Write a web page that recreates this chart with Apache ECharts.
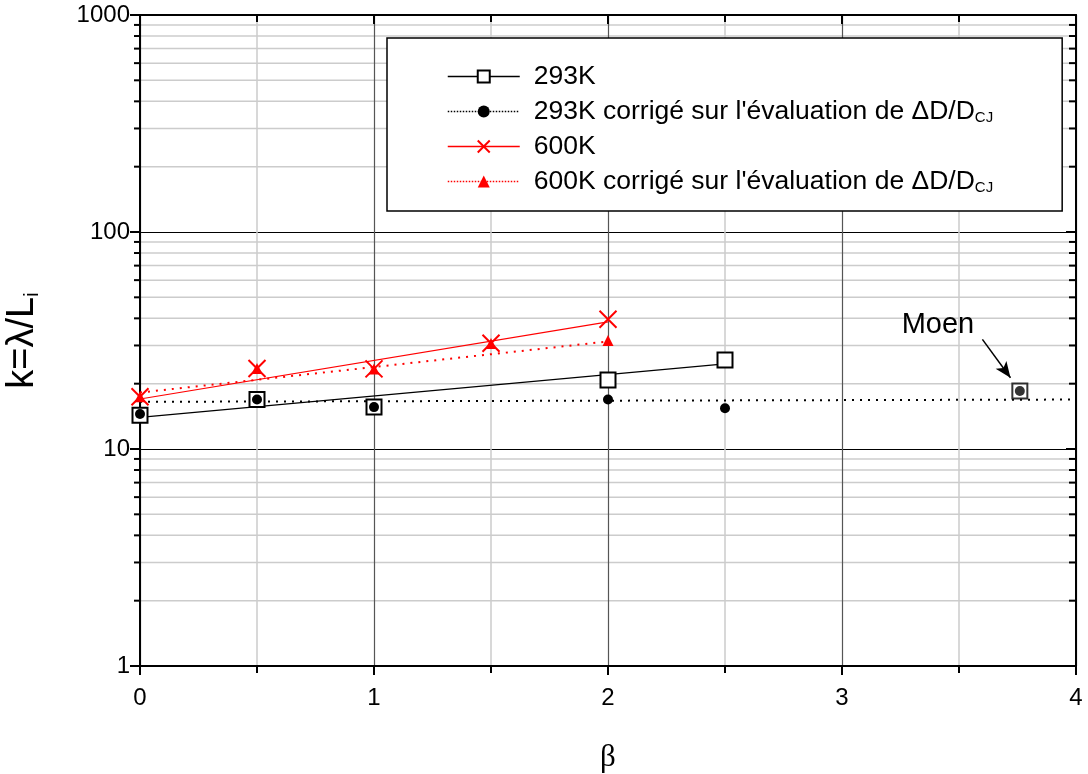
<!DOCTYPE html>
<html>
<head>
<meta charset="utf-8">
<script src="https://cdn.jsdelivr.net/npm/echarts@6/dist/echarts.min.js"></script>
<style>
  html, body { margin: 0; padding: 0; background: #fff; }
  #chart { width: 1088px; height: 774px; }
</style>
</head>
<body>
<div id="chart"></div>
<script>
// Series names (legend entries)
const N293 = "293K";
const N293C = "293K corrigé sur l'évaluation de ΔD/DCJ";
const N600 = "600K";
const N600C = "600K corrigé sur l'évaluation de ΔD/DCJ";

// Measured points [beta, k]
const pts293 = [[0, 14.3], [0.5, 16.9], [1, 15.6], [2, 20.8], [2.5, 25.7]];
const pts293c = [[0, 14.5], [0.5, 16.9], [1, 15.6], [2, 16.9], [2.5, 15.4]];
const pts600 = [[0, 17.4], [0.5, 23.5], [1, 23.4], [1.5, 30.7], [2, 39.6]];
const pts600c = [[0, 17.4], [0.5, 23.5], [1, 23.4], [1.5, 30.6], [2, 31.6]];

// Moen reference point and its annotation
const moenPoint = [[3.76, 18.5]];
const moenLabelAt = [3.41, 37.2];
const moenArrow = [[3.6, 32.0], [3.72, 21.3]];

// Exponential fits (straight on the log axis): end points
const fit293 = [[0, 14.0], [2.5, 24.7]];
const fit293c = [[0, 16.5], [4, 16.9]];
const fit600 = [[0, 17.0], [2, 38.5]];
const fit600c = [[0, 18.2], [2, 31.3]];

// Axis ticks
const xTicks = [0, 1, 2, 3, 4];
const yDecades = [1, 10, 100, 1000];
const yMinor = [];
for (let i = 0; i < yDecades.length - 1; i++) {
  for (let m = 2; m <= 9; m++) yMinor.push(m * yDecades[i]);
}

const FONT = "Liberation Sans";
const chart = echarts.init(document.getElementById('chart'));

const dottedBlack = { color: '#000', width: 2, type: [2, 6] };
const dottedRed = { color: '#ff0000', width: 2, type: [2, 6] };
const xPath = 'path://M0,0L10,10M10,0L0,10';

chart.setOption({
  animation: false,
  backgroundColor: '#fff',
  grid: { left: 140, right: 12, top: 15, bottom: 108, containLabel: false, outerBoundsMode: 'none' },
  legend: {
    orient: 'vertical',
    left: 387, top: 38,
    padding: [25, 69, 16, 60],
    itemGap: 8,
    itemWidth: 72,
    itemHeight: 15,
    borderColor: '#000',
    borderWidth: 1.5,
    borderRadius: 0,
    backgroundColor: '#fff',
    selectedMode: false,
    textStyle: {
      fontFamily: FONT, fontSize: 26.5, color: '#000', lineHeight: 26,
      rich: {
        gap: { width: 9 },
        sub: { fontFamily: FONT, fontSize: 15, color: '#000', padding: [12, 0, 0, 0], lineHeight: 14 }
      }
    },
    formatter: n => '{gap| }' + n.replace(/CJ$/, '{sub|CJ}'),
    data: [
      { name: N293, lineStyle: { color: '#000', width: 1.5, type: 'solid' } },
      { name: N293C, lineStyle: { color: '#000', width: 1.5, type: [1.5, 1.5] } },
      { name: N600, lineStyle: { color: '#ff0000', width: 1.5, type: 'solid' } },
      { name: N600C, lineStyle: { color: '#ff0000', width: 1.5, type: [1.5, 1.5] } }
    ]
  },
  xAxis: [
    {
      type: 'value', position: 'bottom', min: xTicks[0], max: xTicks[xTicks.length - 1], interval: 1,
      name: 'β', nameLocation: 'middle', nameGap: 76,
      nameTextStyle: { fontFamily: 'Liberation Serif', fontSize: 31, color: '#000' },
      axisLine: { show: true, onZero: false, lineStyle: { color: '#000', width: 2 } },
      axisTick: { show: true, inside: false, length: 9, lineStyle: { color: '#000', width: 2 } },
      minorTick: { show: true, splitNumber: 2, length: 7, lineStyle: { color: '#000', width: 2 } },
      axisLabel: { fontFamily: FONT, fontSize: 24, color: '#000', margin: 20 },
      splitLine: { show: true, lineStyle: { color: '#555', width: 1.2 } },
      minorSplitLine: { show: true, lineStyle: { color: '#cccccc', width: 1.5 } }
    },
    {
      type: 'value', position: 'top', min: xTicks[0], max: xTicks[xTicks.length - 1], interval: 1,
      axisLine: { show: true, onZero: false, lineStyle: { color: '#000', width: 2 } },
      axisTick: { show: true, inside: true, length: 9, lineStyle: { color: '#000', width: 2 } },
      minorTick: { show: true, splitNumber: 2, length: 7, lineStyle: { color: '#000', width: 2 } },
      axisLabel: { show: false },
      splitLine: { show: false }
    }
  ],
  yAxis: [
    {
      type: 'log', logBase: 10, min: yDecades[0], max: yDecades[yDecades.length - 1], position: 'left',
      name: 'k=λ/L{sub|i}', nameLocation: 'middle', nameGap: 97, nameRotate: 90,
      nameTextStyle: {
        fontFamily: FONT, fontSize: 38, color: '#000',
        rich: { sub: { fontFamily: FONT, fontSize: 21, color: '#000', padding: [19, 0, 0, 0] } }
      },
      axisLine: { show: true, onZero: false, lineStyle: { color: '#000', width: 2 } },
      axisTick: { show: true, inside: false, length: 10, lineStyle: { color: '#000', width: 2 } },
      minorTick: { show: false },
      axisLabel: { fontFamily: FONT, fontSize: 24, color: '#000', margin: 10, formatter: v => String(v) },
      splitLine: { show: true, lineStyle: { color: '#000', width: 1 } }
    },
    {
      type: 'log', logBase: 10, min: yDecades[0], max: yDecades[yDecades.length - 1], position: 'right',
      axisLine: { show: true, onZero: false, lineStyle: { color: '#000', width: 2 } },
      axisTick: { show: true, inside: true, length: 10, lineStyle: { color: '#000', width: 2 } },
      minorTick: { show: false },
      axisLabel: { show: false },
      splitLine: { show: false }
    }
  ],
  series: [
    {
      // minor log grid lines and minor ticks on both y axes
      type: 'custom', name: 'minorGrid', z: -1, silent: true,
      xAxisIndex: 0, yAxisIndex: 0,
      data: yMinor.map(v => [xTicks[0], v]),
      encode: { x: 0, y: 1 },
      renderItem: (params, api) => {
        const v = api.value(1);
        const a = api.coord([xTicks[0], v]);
        const b = api.coord([xTicks[xTicks.length - 1], v]);
        return {
          type: 'group',
          children: [
            { type: 'line', shape: { x1: a[0], y1: a[1], x2: b[0], y2: b[1] }, style: { stroke: '#cccccc', lineWidth: 1.5 } },
            { type: 'line', shape: { x1: a[0] - 6, y1: a[1], x2: a[0], y2: a[1] }, style: { stroke: '#000', lineWidth: 2 } },
            { type: 'line', shape: { x1: b[0] - 7, y1: b[1], x2: b[0], y2: b[1] }, style: { stroke: '#000', lineWidth: 2 } }
          ]
        };
      }
    },
    // fitted curves
    { type: 'line', name: 'fit293', data: fit293, symbol: 'none', silent: true, z: 3,
      lineStyle: { color: '#000', width: 1.2 } },
    { type: 'line', name: 'fit293c', data: fit293c, symbol: 'none', silent: true, z: 3,
      lineStyle: dottedBlack },
    { type: 'line', name: 'fit600', data: fit600, symbol: 'none', silent: true, z: 3,
      lineStyle: { color: '#ff0000', width: 1.2 } },
    { type: 'line', name: 'fit600c', data: fit600c, symbol: 'none', silent: true, z: 3,
      lineStyle: dottedRed },
    // measured points
    { type: 'line', name: N293, data: pts293, z: 4,
      symbol: 'rect', symbolSize: 15,
      itemStyle: { color: '#fff', borderColor: '#000', borderWidth: 2 },
      lineStyle: { width: 0 } },
    { type: 'line', name: N293C, data: pts293c, z: 5,
      symbol: 'circle', symbolSize: 10,
      itemStyle: { color: '#000', borderColor: '#000', borderWidth: 0 },
      lineStyle: { width: 0 } },
    { type: 'line', name: N600C, data: pts600c, z: 4,
      symbol: 'triangle', symbolSize: 11,
      itemStyle: { color: '#ff0000', borderWidth: 0 },
      lineStyle: { width: 0 } },
    { type: 'line', name: N600, data: pts600, z: 5,
      symbol: xPath, symbolSize: 17, symbolKeepAspect: true,
      itemStyle: { color: '#ff0000', borderColor: '#ff0000', borderWidth: 2 },
      lineStyle: { width: 0 } },
    // Moen
    { type: 'scatter', name: 'Moen', data: moenPoint, z: 4,
      symbol: 'rect', symbolSize: 15,
      itemStyle: { color: '#fff', borderColor: '#000', borderWidth: 2 },
      markLine: {
        silent: true, symbol: ['none', 'arrow'], symbolSize: [10, 16],
        lineStyle: { color: '#000', width: 1.5, type: 'solid' },
        label: { show: false },
        data: [[{ coord: moenArrow[0] }, { coord: moenArrow[1] }]]
      },
      markPoint: {
        silent: true, symbol: 'circle', symbolSize: 1,
        itemStyle: { color: 'rgba(0,0,0,0)' },
        label: { show: true, position: 'inside', formatter: 'Moen', fontFamily: FONT, fontSize: 29, color: '#000' },
        data: [{ coord: moenLabelAt }]
      } },
    { type: 'scatter', name: 'MoenC', data: moenPoint, z: 5,
      symbol: 'circle', symbolSize: 10,
      itemStyle: { color: '#000' } }
  ]
});
</script>
</body>
</html>
